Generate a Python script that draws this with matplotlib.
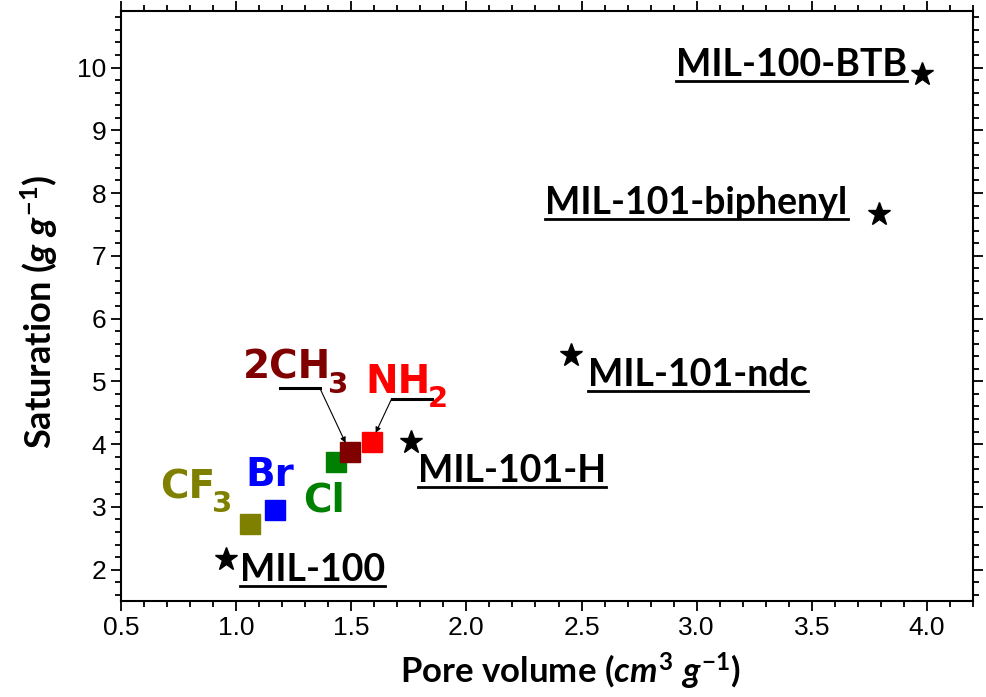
import matplotlib
matplotlib.use("Agg")
import matplotlib.pyplot as plt
from matplotlib.ticker import MultipleLocator

# MOF reference points (stars)
mof_names = ["MIL-100", "MIL-101-H", "MIL-101-ndc", "MIL-101-biphenyl", "MIL-100-BTB"]
mof_volume = [0.955, 1.76, 2.455, 3.79, 3.98]
mof_saturation = [2.17, 4.04, 5.42, 7.66, 9.89]
mof_label_pos = [(1.016, 1.82), (1.79, 3.40), (2.53, 4.93), (2.343, 7.67), (2.911, 9.87)]

# functionalised MIL-101 (squares)
sub_names = ["CF", "Br", "Cl", "2CH", "NH"]
sub_index = ["3", "", "", "3", "2"]
sub_volume = [1.06, 1.168, 1.432, 1.493, 1.588]
sub_saturation = [2.73, 2.95, 3.72, 3.88, 4.04]
sub_colors = ["#808000", "#0000ff", "#008000", "#800000", "#ff0000"]
sub_label_pos = [(0.67, 3.14), (1.038, 3.33), (1.289, 2.93), (1.029, 5.04), (1.562, 4.82)]

plt.rcParams["font.family"] = ["Liberation Sans Narrow", "Liberation Sans"]
plt.rcParams["xtick.labelsize"] = 19
plt.rcParams["ytick.labelsize"] = 19
plt.rcParams["mathtext.fontset"] = "custom"
plt.rcParams["mathtext.rm"] = "Lato:bold"
plt.rcParams["mathtext.bf"] = "Lato:bold"
plt.rcParams["mathtext.it"] = "Lato:bold:italic"

label_font = dict(family="Lato", weight="bold")
chem_font = dict(family="DejaVu Sans", weight="bold")

fig = plt.figure(figsize=(9.87, 6.97), dpi=100)
ax = fig.add_axes([0.1226, 0.1377, 0.8632, 0.8465])

ax.plot(mof_volume, mof_saturation, linestyle="none", marker="*",
        markersize=17, color="black")
for xv, yv, c in zip(sub_volume, sub_saturation, sub_colors):
    ax.plot(xv, yv, linestyle="none", marker="s", markersize=14, color=c)

ax.set_xlim(0.5, 4.2)
ax.set_ylim(1.5, 10.9)
ax.xaxis.set_major_locator(MultipleLocator(0.5))
ax.xaxis.set_minor_locator(MultipleLocator(0.1))
ax.yaxis.set_major_locator(MultipleLocator(1))
ax.yaxis.set_minor_locator(MultipleLocator(0.2))
ax.set_yticks(range(2, 11))

for s in ax.spines.values():
    s.set_linewidth(1.5)
ax.tick_params(which="both", direction="out", width=1.3, top=True, right=True)
ax.tick_params(which="major", length=7)
ax.tick_params(which="minor", length=4)

ax.set_xlabel(r"Pore volume $\mathit{(cm^{3}\ g^{-1})}$", fontsize=25,
              **label_font)
ax.set_ylabel(r"Saturation $\mathit{(g\ g^{-1})}$", fontsize=26, **label_font)
ax.xaxis.set_label_coords(0.527, -0.085)
ax.yaxis.set_label_coords(-0.072, 0.49)

mof_texts = []
for name, (lx, ly) in zip(mof_names, mof_label_pos):
    t = ax.text(lx, ly, name, fontsize=27, ha="left", va="baseline", **label_font)
    mof_texts.append(t)

chem_texts = []
for name, (lx, ly), c in zip(sub_names, sub_label_pos, sub_colors):
    t = ax.text(lx, ly, name, fontsize=28, ha="left", va="baseline", color=c,
                **chem_font)
    chem_texts.append(t)

# leader lines for 2CH3 and NH2
ax.plot([1.19, 1.363], [4.896, 4.896], color="black", lw=2.2)
ax.annotate("", xy=(sub_volume[3], sub_saturation[3]), xytext=(1.363, 4.896),
            arrowprops=dict(arrowstyle="-|>", color="black", lw=0.8,
                            mutation_scale=8, shrinkA=0, shrinkB=7))
ax.plot([1.675, 1.849], [4.72, 4.72], color="black", lw=2.2)
ax.annotate("", xy=(sub_volume[4], sub_saturation[4]), xytext=(1.675, 4.72),
            arrowprops=dict(arrowstyle="-|>", color="black", lw=0.8,
                            mutation_scale=8, shrinkA=0, shrinkB=7))

fig.canvas.draw()
renderer = fig.canvas.get_renderer()
inv = ax.transData.inverted()

# underline the MOF names
for t in mof_texts:
    bb = t.get_window_extent(renderer)
    bx, by = ax.transData.transform(t.get_position())
    (ux0, uy), (ux1, _) = inv.transform([(bb.x0, by - 5), (bb.x1, by - 5)])
    ax.plot([ux0, ux1], [uy, uy], color="black", lw=2)

# subscripts, larger and lower than mathtext would give
for t, idx, c in zip(chem_texts, sub_index, sub_colors):
    if not idx:
        continue
    bb = t.get_window_extent(renderer)
    bx, by = ax.transData.transform(t.get_position())
    sx, sy = inv.transform((bb.x1 - 3, by - 14))
    ax.text(sx, sy, idx, fontsize=21, ha="left", va="baseline", color=c,
            **chem_font)

fig.savefig("out.png", dpi=100)
